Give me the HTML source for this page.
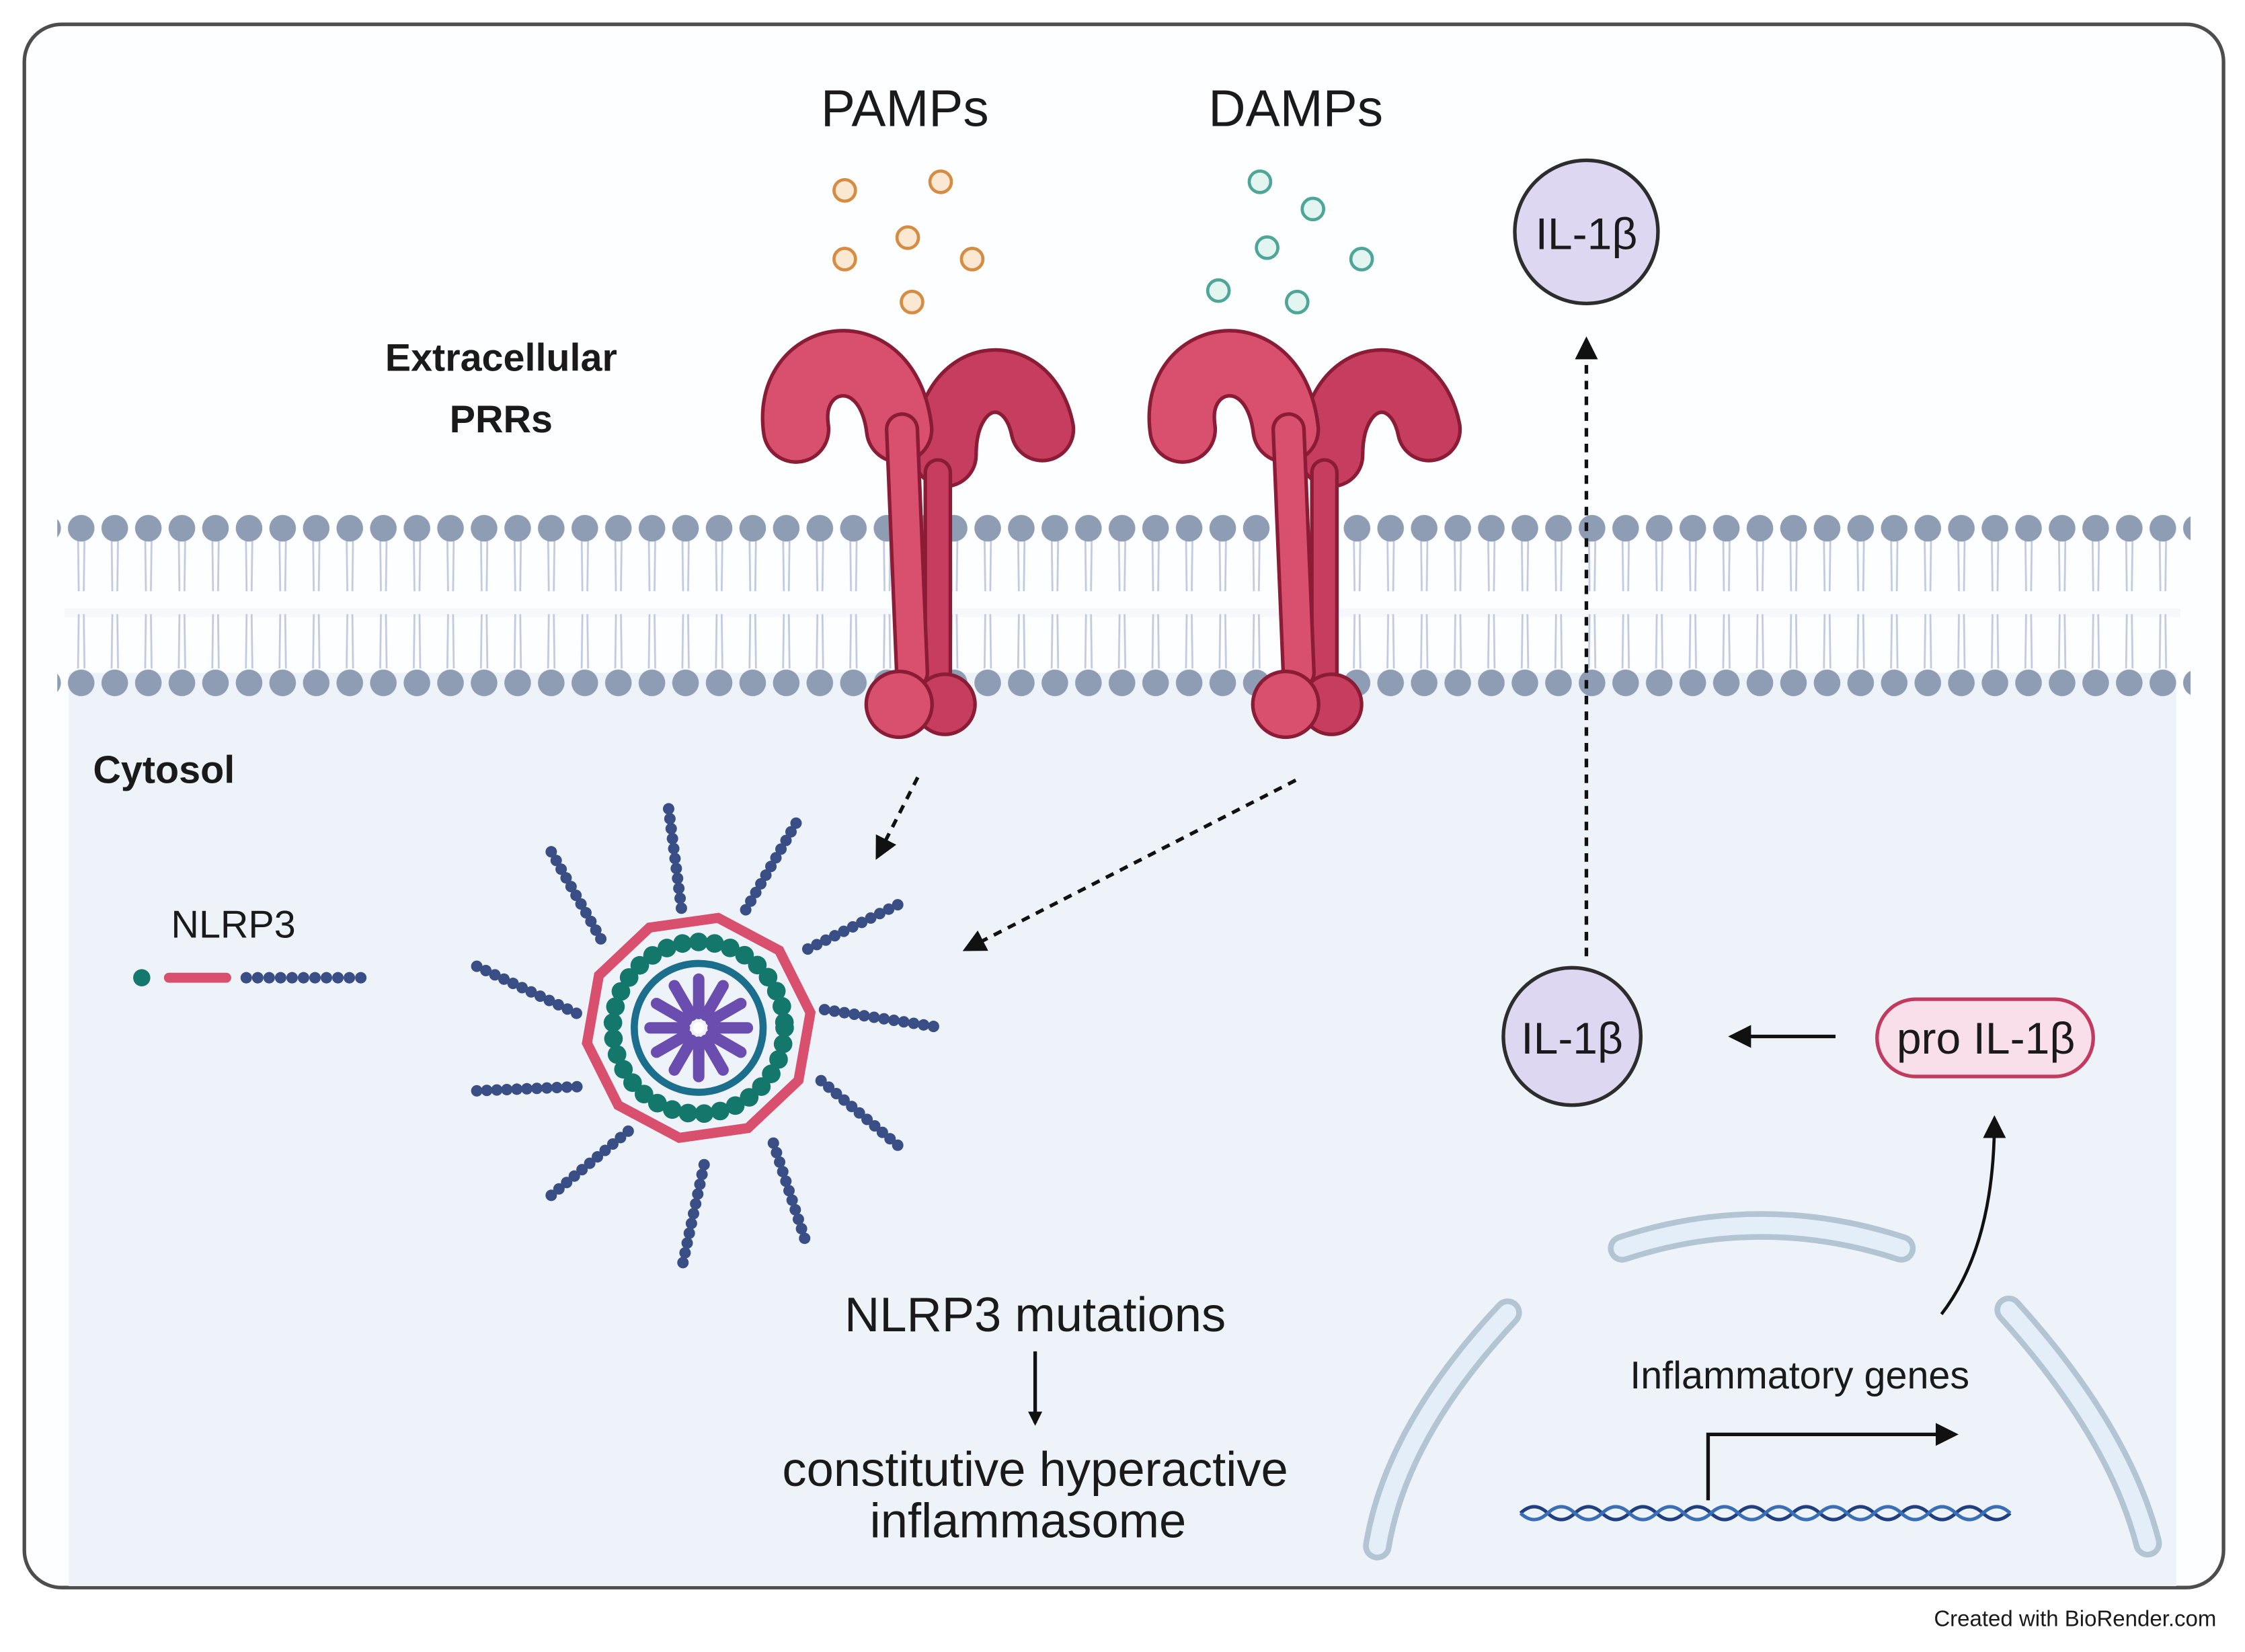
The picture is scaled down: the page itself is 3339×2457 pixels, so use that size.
<!DOCTYPE html>
<html><head><meta charset="utf-8"><style>
html,body{margin:0;padding:0;background:#fff;}
svg{display:block;}
text{font-family:"Liberation Sans",sans-serif;fill:#1a1a1a;}
</style></head><body>
<svg width="3339" height="2457" viewBox="0 0 1568 1154" preserveAspectRatio="none" xmlns="http://www.w3.org/2000/svg">
<defs>
<pattern id="mem" x="45" y="355" width="23.45" height="135" patternUnits="userSpaceOnUse">
<g stroke="#c3cadf" stroke-width="1.3" fill="none">
<line x1="9.5" y1="20" x2="10" y2="58"/><line x1="14" y1="20" x2="13.5" y2="58"/>
<line x1="10" y1="74" x2="9.5" y2="112"/><line x1="13.5" y1="74" x2="14" y2="112"/>
</g>
<circle cx="11.7" cy="14" r="9.3" fill="#8e9cb4"/>
<circle cx="11.7" cy="122" r="9.3" fill="#8e9cb4"/>
</pattern>
<marker id="ah" markerWidth="10" markerHeight="10" refX="8" refY="5" orient="auto" markerUnits="userSpaceOnUse">
<path d="M0,0 L10,5 L0,10 z" fill="#111"/></marker>
<marker id="ah2" markerWidth="16" markerHeight="16" refX="13" refY="8" orient="auto" markerUnits="userSpaceOnUse">
<path d="M0,0 L16,8 L0,16 z" fill="#111"/></marker>
</defs>
<rect x="0" y="0" width="1568" height="1154" fill="#fff"/>
<rect x="17" y="17" width="1536" height="1092" rx="26" fill="#fdfeff" stroke="#4d4d4d" stroke-width="2.5"/>
<rect x="48" y="470" width="1472" height="638" fill="#eef3fa"/>
<rect x="45" y="425" width="1478" height="6" fill="#f6f8fc"/>
<rect x="40" y="355" width="1490" height="135" fill="url(#mem)"/>

<g fill="#fbe8d2" stroke="#d58c43" stroke-width="2.2">
<circle cx="590" cy="133" r="7.5"/><circle cx="657" cy="127" r="7.5"/><circle cx="634" cy="166" r="7.5"/>
<circle cx="590" cy="181" r="7.5"/><circle cx="679" cy="181" r="7.5"/><circle cx="637" cy="211" r="7.5"/>
</g>
<g fill="#e2f5f1" stroke="#4da697" stroke-width="2.2">
<circle cx="880" cy="127" r="7.5"/><circle cx="917" cy="146" r="7.5"/><circle cx="885" cy="173" r="7.5"/>
<circle cx="951" cy="181" r="7.5"/><circle cx="851" cy="203" r="7.5"/><circle cx="906" cy="211" r="7.5"/>
</g>

<g id="rec">
<g fill="none" stroke-linecap="round">
<path d="M660 318 C660 255 718 250 728 300" stroke="#8a1c36" stroke-width="46"/>
<path d="M660 318 C660 255 718 250 728 300" stroke="#c63d5f" stroke-width="41"/>
<path d="M655 330 L655 470" stroke="#8a1c36" stroke-width="20"/>
<path d="M655 330 L655 470" stroke="#c63d5f" stroke-width="15"/>
<path d="M556 300 C548 245 620 232 628 300" stroke="#8a1c36" stroke-width="48"/>
<path d="M556 300 C548 245 620 232 628 300" stroke="#d9506f" stroke-width="43"/>
<path d="M630 300 L637 470" stroke="#8a1c36" stroke-width="24"/>
<path d="M630 300 L637 470" stroke="#d9506f" stroke-width="19"/>
</g>
<circle cx="660" cy="492" r="21" fill="#c63d5f" stroke="#8a1c36" stroke-width="2.5"/>
<circle cx="628" cy="492" r="23" fill="#d9506f" stroke="#8a1c36" stroke-width="2.5"/>
</g>
<use href="#rec" transform="translate(270,0)"/>

<text x="632" y="88" font-size="36" text-anchor="middle">PAMPs</text>
<text x="905" y="88" font-size="36" text-anchor="middle">DAMPs</text>
<text x="350" y="259" font-size="27" font-weight="bold" text-anchor="middle">Extracellular</text>
<text x="350" y="302" font-size="27" font-weight="bold" text-anchor="middle">PRRs</text>
<text x="65" y="547" font-size="27" font-weight="bold">Cytosol</text>
<text x="163" y="655" font-size="27" text-anchor="middle">NLRP3</text>
<text x="723" y="930" font-size="34" text-anchor="middle">NLRP3 mutations</text>
<text x="723" y="1038" font-size="34" text-anchor="middle">constitutive hyperactive</text>
<text x="718" y="1074" font-size="34" text-anchor="middle">inflammasome</text>
<text x="1257" y="970" font-size="27" text-anchor="middle">Inflammatory genes</text>
<text x="1548" y="1136" font-size="15.5" text-anchor="end" fill="#444">Created with BioRender.com</text>

<circle cx="99" cy="683" r="6" fill="#14786c"/>
<line x1="118" y1="683" x2="158" y2="683" stroke="#d9506f" stroke-width="7" stroke-linecap="round"/>
<line x1="172" y1="683" x2="254" y2="683" stroke="#3a4e86" stroke-width="8" stroke-linecap="round" stroke-dasharray="0 8"/>

<g stroke="#3a4e86" stroke-width="8" stroke-linecap="round" stroke-dasharray="0 7" fill="none">
<line x1="467" y1="565" x2="476" y2="635"/>
<line x1="556" y1="575" x2="520" y2="637"/>
<line x1="627" y1="632" x2="560" y2="665"/>
<line x1="652" y1="717" x2="574" y2="705"/>
<line x1="627" y1="800" x2="570" y2="752"/>
<line x1="562" y1="865" x2="540" y2="798"/>
<line x1="477" y1="882" x2="493" y2="808"/>
<line x1="385" y1="835" x2="439" y2="790"/>
<line x1="333" y1="762" x2="406" y2="759"/>
<line x1="333" y1="675" x2="403" y2="708"/>
<line x1="385" y1="595" x2="422" y2="660"/>
</g>
<polygon points="488,640 534,655 563,694 563,742 534,781 488,796 442,781 413,742 413,694 442,655" fill="none" stroke="#d9506f" stroke-width="7" transform="rotate(10 488 718)"/>
<circle cx="488" cy="718" r="60" fill="none" stroke="#13776b" stroke-width="13" stroke-dasharray="0 11.3" stroke-linecap="round"/>
<circle cx="488" cy="718" r="45" fill="none" stroke="#1c6f8c" stroke-width="5"/>
<g stroke="#6b4caf" stroke-width="8" stroke-linecap="round">
<line x1="488" y1="708" x2="488" y2="684"/><line x1="488" y1="708" x2="488" y2="684" transform="rotate(30 488 718)"/>
<line x1="488" y1="708" x2="488" y2="684" transform="rotate(60 488 718)"/><line x1="488" y1="708" x2="488" y2="684" transform="rotate(90 488 718)"/>
<line x1="488" y1="708" x2="488" y2="684" transform="rotate(120 488 718)"/><line x1="488" y1="708" x2="488" y2="684" transform="rotate(150 488 718)"/>
<line x1="488" y1="708" x2="488" y2="684" transform="rotate(180 488 718)"/><line x1="488" y1="708" x2="488" y2="684" transform="rotate(210 488 718)"/>
<line x1="488" y1="708" x2="488" y2="684" transform="rotate(240 488 718)"/><line x1="488" y1="708" x2="488" y2="684" transform="rotate(270 488 718)"/>
<line x1="488" y1="708" x2="488" y2="684" transform="rotate(300 488 718)"/><line x1="488" y1="708" x2="488" y2="684" transform="rotate(330 488 718)"/>
</g>
<circle cx="488" cy="718" r="4" fill="#fff"/>

<g stroke="#111" stroke-width="2.5" stroke-dasharray="6 5" fill="none">
<line x1="641" y1="543" x2="613" y2="598" marker-end="url(#ah2)"/>
<line x1="905" y1="545" x2="675" y2="663" marker-end="url(#ah2)"/>
<line x1="1108" y1="668" x2="1108" y2="238" marker-end="url(#ah2)"/>
</g>

<circle cx="1108" cy="162" r="50" fill="#ddd7f1" stroke="#2d2d2d" stroke-width="2.5"/>
<text x="1108" y="174" font-size="31" text-anchor="middle">IL-1β</text>
<circle cx="1098" cy="724" r="48" fill="#ddd7f1" stroke="#2d2d2d" stroke-width="2.5"/>
<text x="1098" y="736" font-size="31" text-anchor="middle">IL-1β</text>
<rect x="1311" y="698" width="151" height="54" rx="27" fill="#f8dfea" stroke="#c23a60" stroke-width="2.5"/>
<text x="1387" y="736" font-size="31" text-anchor="middle">pro IL-1β</text>
<line x1="1282" y1="724" x2="1210" y2="724" stroke="#111" stroke-width="2.5" marker-end="url(#ah2)"/>
<path d="M1356 918 Q1393 870 1393 782" fill="none" stroke="#111" stroke-width="2.2" marker-end="url(#ah2)"/>

<g fill="none" stroke-linecap="round">
<path d="M1133 872 Q1230 840 1328 872" stroke="#b3c4d2" stroke-width="20"/>
<path d="M1133 872 Q1230 840 1328 872" stroke="#e4eef9" stroke-width="12"/>
<path d="M1053 917 Q975 1000 962 1080" stroke="#b3c4d2" stroke-width="20"/>
<path d="M1053 917 Q975 1000 962 1080" stroke="#e4eef9" stroke-width="12"/>
<path d="M1403 915 Q1480 1000 1500 1078" stroke="#b3c4d2" stroke-width="20"/>
<path d="M1403 915 Q1480 1000 1500 1078" stroke="#e4eef9" stroke-width="12"/>
</g>
<path d="M1193 1048 L1193 1002 L1365 1002" fill="none" stroke="#111" stroke-width="2.5" marker-end="url(#ah2)"/>
<g fill="none" stroke-width="2.4">
<path stroke="#1f3f80" d="M1062 1057 q9.5 -9 19 0 t19 0 t19 0 t19 0 t19 0 t19 0 t19 0 t19 0 t19 0 t19 0 t19 0 t19 0 t19 0 t19 0 t19 0 t19 0 t19 0 t19 0"/>
<path stroke="#3b6fb5" d="M1062 1057 q9.5 9 19 0 t19 0 t19 0 t19 0 t19 0 t19 0 t19 0 t19 0 t19 0 t19 0 t19 0 t19 0 t19 0 t19 0 t19 0 t19 0 t19 0 t19 0"/>
</g>

<line x1="723" y1="944" x2="723" y2="994" stroke="#111" stroke-width="2.5" marker-end="url(#ah)"/>
</svg>
</body></html>
